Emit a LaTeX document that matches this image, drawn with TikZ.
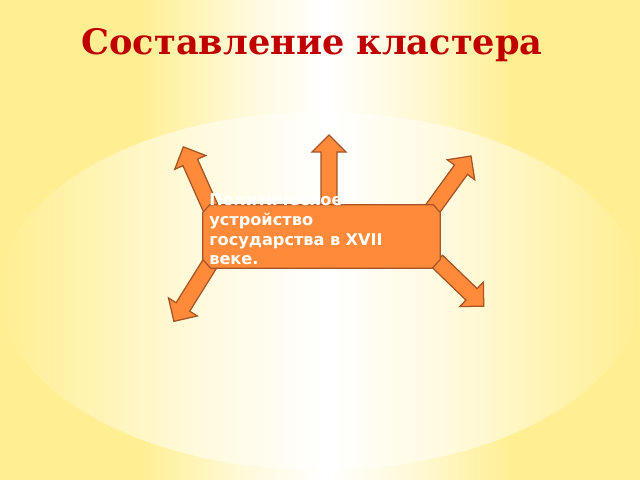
\documentclass[tikz,border=0pt]{standalone}
\usepackage{fontspec}
\usepackage{tikz}
\usetikzlibrary{shapes,positioning,calc}
\newfontfamily\titlefont{DejaVu Serif}
\newfontfamily\boxfont{DejaVu Sans}
\definecolor{bgyel}{RGB}{255,239,146}
\definecolor{boxor}{RGB}{255,138,58}
\definecolor{boxbr}{RGB}{165,85,40}
\definecolor{ttlred}{RGB}{192,0,0}
\pgfdeclarehorizontalshading{bgout}{100bp}{color(0bp)=(bgyel); color(25bp)=(bgyel); color(36bp)=(bgyel); color(44bp)=(bgyel!35!white); color(50.5bp)=(white); color(57bp)=(bgyel!35!white); color(65bp)=(bgyel); color(75bp)=(bgyel); color(100bp)=(bgyel)}
\pgfdeclarehorizontalshading{bgin}{100bp}{color(0bp)=(bgyel); color(25bp)=(bgyel); color(31bp)=(bgyel!75!white); color(41bp)=(bgyel!30!white); color(50.5bp)=(white); color(60bp)=(bgyel!30!white); color(69bp)=(bgyel!75!white); color(75bp)=(bgyel); color(100bp)=(bgyel)}

\begin{document}
\begin{tikzpicture}[x=0.025cm, y=-0.025cm,
    box/.style={minimum width=5.925cm, minimum height=1.575cm, inner sep=0pt},
    boxline/.style={draw=boxbr, fill=boxor, line width=0.9pt, line join=miter},
    blockarrow/.style={draw=boxbr, fill=boxor, line width=0.9pt, line join=miter}
]
    % фон
    \useasboundingbox (0,0) rectangle (640,480);
    \shade[shading=bgout] (0,0) rectangle (640,480);
    \shade[shading=bgin] (320,291) ellipse [x radius=8cm, y radius=4.475cm];

    \node[font=\titlefont\bfseries\fontsize{25}{29}\selectfont, text=ttlred] (title) at (312,45) {Составление кластера};

    % стрелки из центра
    \foreach \bx/\by/\ang/\len in {329/206/90/71, 211/209/114/68, 431/211/54/68, 211/262/238/70, 437/261/-44/65}{
        \draw[blockarrow, shift={(\bx,\by)}, rotate=\ang]
            (0,-8) -- (\len-17,-8) -- (\len-17,-17) -- (\len,0) -- (\len-17,17) -- (\len-17,8) -- (0,8) -- cycle;
    }

    \node[box] (centre) at (321.5,236.5) {};
    % срезанные углы
    \draw[boxline] ($(centre.north west)+(7,0)$) -- ($(centre.north east)+(-7,0)$) -- ($(centre.north east)+(0,8)$)
        -- ($(centre.south east)+(0,-9)$) -- ($(centre.south east)+(-8,0)$) -- ($(centre.south west)+(8,0)$)
        -- ($(centre.south west)+(0,-9)$) -- ($(centre.north west)+(0,8)$) -- cycle;
    \node[anchor=north west, inner sep=0pt, text width=4.8cm, align=left, text=white,
        font=\boxfont\bfseries\fontsize{11.5}{14.2}\selectfont] (label) at (209,193)
        {Политическое устройство государства в XVII веке.};
\end{tikzpicture}
\end{document}
